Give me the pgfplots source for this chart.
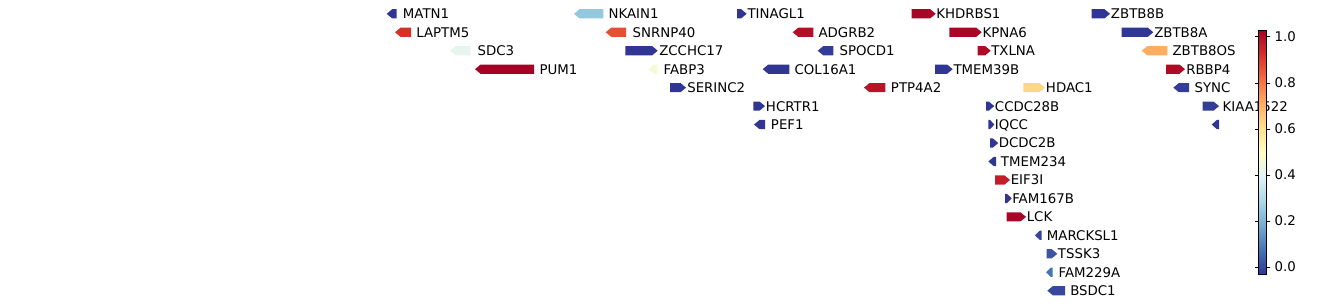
\documentclass[border=0pt]{standalone}
\usepackage{pgfplots}
\pgfplotsset{compat=1.18}
\usepackage{fontspec}
\setmainfont{DejaVu Sans}
\usetikzlibrary{calc}

\pgfplotsset{colormap={rdylbur}{rgb255=(49,54,149) rgb255=(69,117,180) rgb255=(116,173,209) rgb255=(171,217,233) rgb255=(224,243,248) rgb255=(255,255,191) rgb255=(254,224,144) rgb255=(253,174,97) rgb255=(244,109,67) rgb255=(215,48,39) rgb255=(165,0,38)}}

% #1 start, #2 end, #3 row, #4 strand (1 / -1), #5 value, #6 label x, #7 label
\newcommand\gene[7]{%
  \pgfmathsetmacro\gy{13.8+18.46*#3}%
  \pgfmathsetmacro\gt{\gy-4.6}%
  \pgfmathsetmacro\gb{\gy+4.6}%
  \pgfmathsetmacro\hl{min(5.5,0.7*(#2-#1))}%
  \pgfmathsetmacro\cm{max(0,min(1000,1000*#5))}%
  \ifnum#4>0
    \pgfmathsetmacro\nk{#2-\hl}%
    \edef\doplot{\noexpand\addplot[draw=none,fill,color of colormap={\cm\space of rdylbur}] coordinates {(#1,\gt) (\nk,\gt) (#2,\gy) (\nk,\gb) (#1,\gb)} -- cycle;}%
  \else
    \pgfmathsetmacro\nk{#1+\hl}%
    \edef\doplot{\noexpand\addplot[draw=none,fill,color of colormap={\cm\space of rdylbur}] coordinates {(#2,\gt) (\nk,\gt) (#1,\gy) (\nk,\gb) (#2,\gb)} -- cycle;}%
  \fi
  \doplot
  \edef\donode{\noexpand\node[anchor=west,inner sep=0pt,text depth=0pt,font=\noexpand\fontsize{9.6}{11}\noexpand\selectfont] at (axis cs:#6,\gy) {#7};}%
  \donode
}

\begin{document}
\begin{tikzpicture}
\path (0,0) rectangle (963.36pt,219.6pt);
\begin{axis}[
  scale only axis, width=963.36pt, height=219.6pt,
  xmin=0, xmax=1338, ymin=0, ymax=305, y dir=reverse,
  axis line style={draw=none}, xtick=\empty, ytick=\empty,
  clip=false,
  colormap name=rdylbur,
  point meta min=-0.03, point meta max=1.03,
  colorbar,
  colorbar style={
    at={($(parent axis.south west)+(897.84pt,22.32pt)$)}, anchor=south west,
    width=5.3pt, height=175.7pt,
    axis line style={draw=black, line width=0.6pt},
    ytick={0,0.2,0.4,0.6,0.8,1.0},
    yticklabel pos=right,
    tick align=outside, major tick length=2.6pt,
    tick style={black, line width=0.6pt},
    yticklabel style={font=\fontsize{9.6}{11}\selectfont, /pgf/number format/fixed, /pgf/number format/fixed zerofill, /pgf/number format/precision=1, /pgf/number format/assume math mode=true},
  },
]
\gene{386.7}{396.7}{0}{-1}{0.0}{402.7}{MATN1}
\gene{395}{411}{1}{-1}{0.9}{416}{LAPTM5}
\gene{450}{470.7}{2}{-1}{0.42}{477.3}{SDC3}
\gene{475}{534}{3}{-1}{1.0}{539.3}{PUM1}
\gene{574}{603.3}{0}{-1}{0.26}{608.3}{NKAIN1}
\gene{605.7}{626}{1}{-1}{0.85}{632.3}{SNRNP40}
\gene{625.3}{657.7}{2}{1}{0.0}{659}{ZCCHC17}
\gene{648.3}{657.7}{3}{-1}{0.46}{663.3}{FABP3}
\gene{670}{686}{4}{1}{0.0}{687}{SERINC2}
\gene{737}{746.7}{0}{1}{0.0}{747.3}{TINAGL1}
\gene{792.7}{813.3}{1}{-1}{0.97}{818.3}{ADGRB2}
\gene{817.7}{833.3}{2}{-1}{0.01}{839.3}{SPOCD1}
\gene{762.7}{789.3}{3}{-1}{0.0}{794.3}{COL16A1}
\gene{864}{885.3}{4}{-1}{0.96}{890.7}{PTP4A2}
\gene{753.3}{765}{5}{1}{0.0}{765.7}{HCRTR1}
\gene{754}{765}{6}{-1}{0.0}{770.7}{PEF1}
\gene{911.7}{935.7}{0}{1}{0.99}{936}{KHDRBS1}
\gene{949.3}{981.7}{1}{1}{0.99}{982.3}{KPNA6}
\gene{977.7}{990.7}{2}{1}{0.98}{991}{TXLNA}
\gene{935}{952.7}{3}{1}{0.0}{953.3}{TMEM39B}
\gene{1023.3}{1045}{4}{1}{0.62}{1045.7}{HDAC1}
\gene{986}{994.3}{5}{1}{0.0}{994.7}{CCDC28B}
\gene{988.3}{994.3}{6}{1}{0.0}{994.7}{IQCC}
\gene{990}{998.3}{7}{1}{0.0}{998.5}{DCDC2B}
\gene{988.3}{996}{8}{-1}{0.0}{1000.7}{TMEM234}
\gene{995}{1010}{9}{1}{0.94}{1010.5}{EIF3I}
\gene{1005}{1011.7}{10}{1}{0.0}{1012}{FAM167B}
\gene{1006.7}{1026}{11}{1}{0.99}{1026.5}{LCK}
\gene{1035}{1041.7}{12}{-1}{0.02}{1046.7}{MARCKSL1}
\gene{1046.7}{1057.3}{13}{1}{0.05}{1057.7}{TSSK3}
\gene{1046}{1052.7}{14}{-1}{0.1}{1058.3}{FAM229A}
\gene{1047.3}{1065}{15}{-1}{0.03}{1070}{BSDC1}
\gene{1091.7}{1110}{0}{1}{0.0}{1110.7}{ZBTB8B}
\gene{1121.7}{1153.3}{1}{1}{0.0}{1154}{ZBTB8A}
\gene{1141.7}{1167.3}{2}{-1}{0.7}{1172.3}{ZBTB8OS}
\gene{1166}{1185}{3}{1}{0.98}{1186}{RBBP4}
\gene{1173.3}{1189}{4}{-1}{0.01}{1194.3}{SYNC}
\gene{1202.7}{1219}{5}{1}{0.01}{1222.3}{KIAA1522}
\gene{1211.7}{1219}{6}{-1}{0.0}{1225}{}
\end{axis}
\end{tikzpicture}
\end{document}
